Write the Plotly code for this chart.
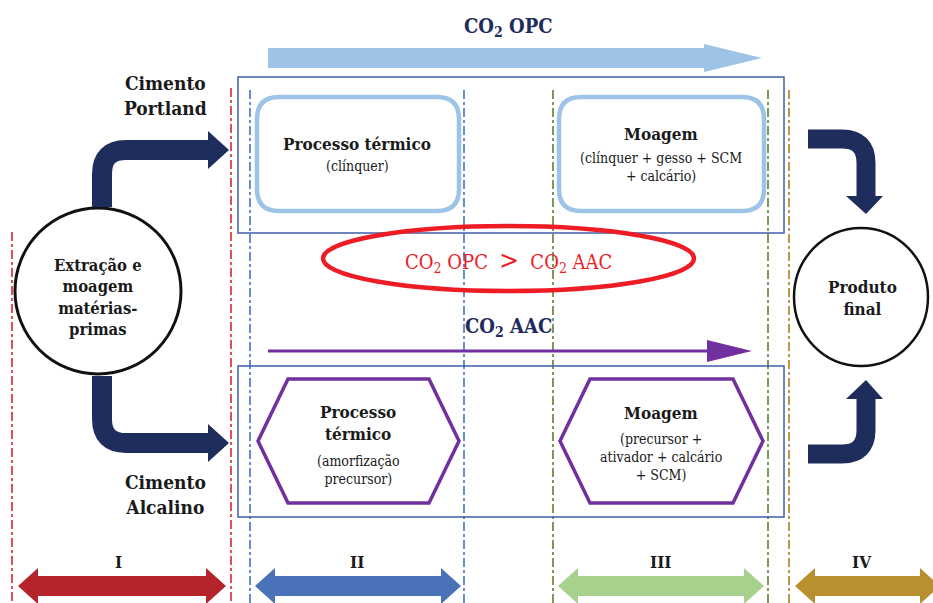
import plotly.graph_objects as go

W, H = 933, 603
SERIF = "DejaVu Serif Condensed"
NAVY = "#1F2D5C"
TXT = "#1a1a1a"

# ---- data (labels / texts) ----
stage_labels = ["I", "II", "III", "IV"]
stage_x = [118, 357, 660, 862]
stage_colors = ["#B4242A", "#4A72B8", "#A9D18E", "#B8902F"]
stage_spans = [(18, 226), (255, 461), (558, 764), (795, 940)]

divider_x = [12, 231, 250, 464, 553, 768, 789]
divider_colors = ["#D42A2E", "#D42A2E", "#4472C4", "#4472C4", "#5E7F2E", "#5E7F2E", "#A8801E"]
divider_top = [232, 88, 90, 90, 90, 90, 90]

opc_titles = ["Processo térmico", "Moagem"]
opc_subs = ["(clínquer)", "(clínquer + gesso + SCM<br>+ calcário)"]
aac_titles = ["Processo<br>térmico", "Moagem"]
aac_subs = ["(amorfização<br>precursor)", "(precursor +<br>ativador + calcário<br>+ SCM)"]

fig = go.Figure()
shapes = []
ann = []

def line(x0, y0, x1, y1, color, width=1.5, dash="solid"):
    shapes.append(dict(type="line", x0=x0, y0=y0, x1=x1, y1=y1,
                       line=dict(color=color, width=width, dash=dash)))

def path(d, fill=None, color=None, width=0):
    s = dict(type="path", path=d, line=dict(color=color or "rgba(0,0,0,0)", width=width))
    if fill:
        s["fillcolor"] = fill
    shapes.append(s)

def text(x, y, t, size=16, color=TXT, bold=False, family=SERIF):
    if bold:
        t = "<b>" + t.replace("<br>", "</b><br><b>") + "</b>"
    ann.append(dict(x=x, y=y, text=t, showarrow=False, xanchor="center", yanchor="middle",
                    font=dict(family=family, size=size, color=color)))

# dividers
for x, c, t in zip(divider_x, divider_colors, divider_top):
    line(x, t, x, H, c, 1.6, "dashdot")

# big blue frames
for (y0, y1) in [(77, 233), (366, 517)]:
    shapes.append(dict(type="rect", x0=238, y0=y0, x1=784, y1=y1,
                       line=dict(color="#3F5FA8", width=1.5)))

def rrect(x0, y0, x1, y1, r):
    return (f"M {x0+r},{y0} L {x1-r},{y0} Q {x1},{y0} {x1},{y0+r} L {x1},{y1-r} "
            f"Q {x1},{y1} {x1-r},{y1} L {x0+r},{y1} Q {x0},{y1} {x0},{y1-r} "
            f"L {x0},{y0+r} Q {x0},{y0} {x0+r},{y0} Z")

# rounded OPC boxes
for (x0, x1) in [(257, 459), (559, 764)]:
    path(rrect(x0, 97, x1, 211, 22), color="#9DC3E6", width=4.5)

# hexagons AAC
for (x0, x1) in [(258, 459), (560, 763)]:
    yt, yb, ym = 379, 503, 441
    d = (f"M {x0},{ym} L {x0+30},{yt} L {x1-30},{yt} L {x1},{ym} "
         f"L {x1-30},{yb} L {x0+30},{yb} Z")
    path(d, color="#7030A0", width=3.5)

# circles
shapes.append(dict(type="circle", x0=98-83, y0=291-83, x1=98+83, y1=291+83,
                   line=dict(color="#111111", width=3)))
shapes.append(dict(type="circle", x0=861-67, y0=297-69, x1=861+67, y1=297+69,
                   line=dict(color="#111111", width=2.5)))

# red ellipse
shapes.append(dict(type="circle", x0=323, y0=226, x1=694, y1=291,
                   line=dict(color="#EE1C25", width=4.5)))

# light blue OPC arrow
path("M 268,48 L 704,48 L 704,44 L 762,58 L 704,72 L 704,68 L 268,68 Z", fill="#9DC3E6")

# purple AAC arrow
line(268, 351, 710, 351, "#7030A0", 3)
path("M 707,340 L 752,351 L 707,362 Z", fill="#7030A0")

# navy bent arrows
path("M 102,207 L 102,174 Q 102,150 126,150 L 210,150", color=NAVY, width=20)
path("M 208,131 L 229,150 L 208,169 Z", fill=NAVY)
path("M 102,376 L 102,419 Q 102,443 126,443 L 210,443", color=NAVY, width=20)
path("M 208,424 L 229,443 L 208,462 Z", fill=NAVY)
path("M 808,139 L 842,139 Q 866,139 866,163 L 866,198", color=NAVY, width=19)
path("M 846,196 L 866,214 L 883,196 Z", fill=NAVY)
path("M 808,454 L 842,454 Q 866,454 866,430 L 866,397", color=NAVY, width=19)
path("M 846,399 L 866,380 L 883,399 Z", fill=NAVY)

# stage double arrows
yc, hh, sh, hl = 586, 18, 10, 20
for (x0, x1), c in zip(stage_spans, stage_colors):
    d = (f"M {x0},{yc} L {x0+hl},{yc-hh} L {x0+hl},{yc-sh} L {x1-hl},{yc-sh} "
         f"L {x1-hl},{yc-hh} L {x1},{yc} L {x1-hl},{yc+hh} L {x1-hl},{yc+sh} "
         f"L {x0+hl},{yc+sh} L {x0+hl},{yc+hh} Z")
    path(d, fill=c)
for lab, x in zip(stage_labels, stage_x):
    text(x, 562, lab, 17, TXT, bold=True)

# texts
text(508, 27, "CO<sub>2</sub> OPC", 20, NAVY, bold=True)
text(508, 327, "CO<sub>2</sub> AAC", 20, NAVY, bold=True)
text(508, 260, "CO<sub>2</sub> OPC&nbsp; <span style='font-size:26px'>&gt;</span> &nbsp;CO<sub>2</sub> AAC",
     20, "#EE1C25")

text(165, 95, "Cimento<br>Portland", 19, TXT, bold=True)
text(165, 494, "Cimento<br>Alcalino", 19, TXT, bold=True)
text(98, 297, "Extração e<br>moagem<br>matérias-<br>primas", 16.5, TXT, bold=True)
text(862, 298, "Produto<br>final", 17, TXT, bold=True)

# OPC boxes
text(357, 144, opc_titles[0], 17, TXT, bold=True)
text(357, 166, opc_subs[0], 14)
text(661, 134, opc_titles[1], 17, TXT, bold=True)
text(661, 167, opc_subs[1], 14)
# AAC hexagons
text(358, 423, aac_titles[0], 17, TXT, bold=True)
text(358, 470, aac_subs[0], 14)
text(661, 413, aac_titles[1], 17, TXT, bold=True)
text(661, 457, aac_subs[1], 14)

fig.update_layout(
    width=W, height=H, autosize=False,
    margin=dict(l=0, r=0, t=0, b=0),
    paper_bgcolor="white", plot_bgcolor="white",
    xaxis=dict(range=[0, W], visible=False, fixedrange=True),
    yaxis=dict(range=[H, 0], visible=False, fixedrange=True),
    shapes=shapes, annotations=ann, showlegend=False,
)
fig.write_html("out.html", config={"displayModeBar": False},
               post_script="document.body.style.margin='0';document.body.style.overflow='hidden';")
